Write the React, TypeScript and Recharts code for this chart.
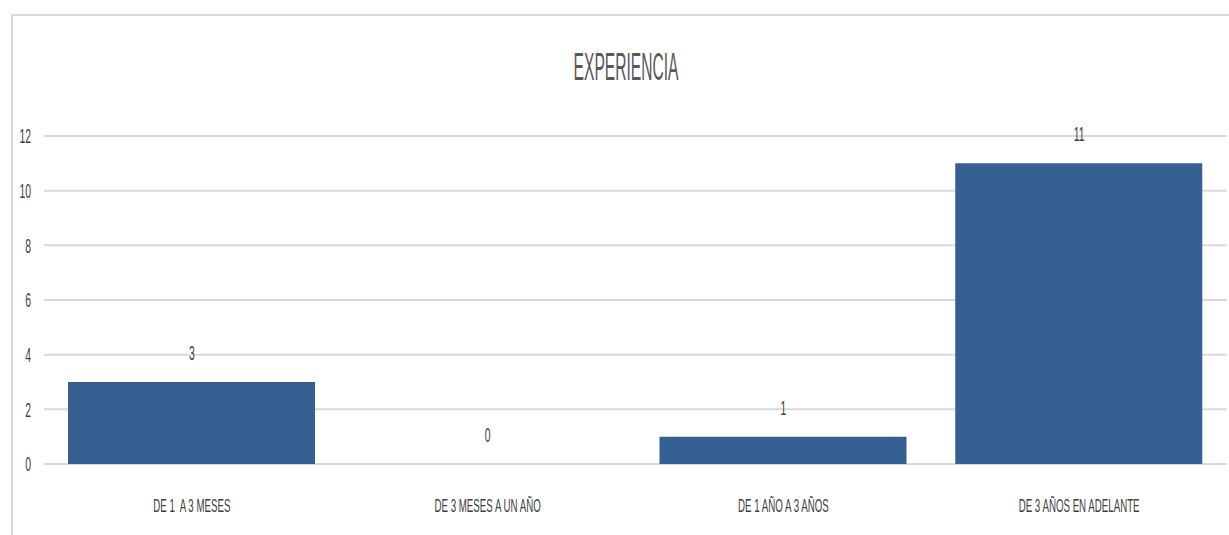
import React from "react";
import { ComposedChart, Bar, Line, XAxis, YAxis, CartesianGrid, LabelList } from "recharts";

const categories = ["DE 1  A 3 MESES", "DE 3 MESES A UN AÑO", "DE 1 AÑO A 3 AÑOS", "DE 3 AÑOS EN ADELANTE"];
const values = [3, 0, 1, 11];
const yTicks = [0, 2, 4, 6, 8, 10, 12];
const title = "EXPERIENCIA";

const data = categories.map((c, i) => ({ name: c, value: values[i] }));

const FONT = "'Liberation Sans', Arial, sans-serif";
const TEXT = "#404040";

const XTick = (props: any) => {
  const { x, y, payload } = props;
  return (
    <g transform={`translate(${x},${y})`}>
      <text transform="scale(0.54,1)" textAnchor="middle" dy="0.71em" fill={TEXT} fontSize={18} fontFamily={FONT} style={{ whiteSpace: "pre" }}>
        {payload.value}
      </text>
    </g>
  );
};

const YTick = (props: any) => {
  const { x, y, payload } = props;
  return (
    <g transform={`translate(${x},${y})`}>
      <text transform="scale(0.52,1)" textAnchor="end" dy="0.36em" fill={TEXT} fontSize={20} fontFamily={FONT}>
        {payload.value}
      </text>
    </g>
  );
};

const ValueLabel = (props: any) => {
  const { x, y, value } = props;
  return (
    <g transform={`translate(${x},${y - 22})`}>
      <text transform="scale(0.52,1)" textAnchor="middle" fill={TEXT} fontSize={20} fontFamily={FONT}>
        {value}
      </text>
    </g>
  );
};

export default function App() {
  return (
    <div style={{ position: "absolute", left: 0, top: 0, width: 1229, height: 535, background: "#fff" }}>
      <div
        style={{
          position: "absolute",
          left: 11,
          top: 14,
          width: 1218,
          height: 521,
          borderTop: "2px solid #d9d9d9",
          borderLeft: "2px solid #d9d9d9",
          boxSizing: "border-box",
        }}
      />
      <svg width={1229} height={100} style={{ position: "absolute", left: 0, top: 0 }}>
        <g transform="translate(626,80)">
          <text transform="scale(0.4,1)" textAnchor="middle" fill="#595959" fontSize={39} fontFamily={FONT}>
            {title}
          </text>
        </g>
      </svg>
      <div style={{ position: "absolute", left: 0, top: 0 }}>
        <ComposedChart
          width={1229}
          height={535}
          data={data}
          margin={{ top: 136, right: 2, bottom: 21, left: 0 }}
        >
          <CartesianGrid vertical={false} stroke="#d9d9d9" strokeWidth={2} />
          <YAxis
            domain={[0, 12]}
            ticks={yTicks}
            width={44}
            axisLine={false}
            tickLine={false}
            tickMargin={7}
            tick={<YTick />}
          />
          <XAxis
            dataKey="name"
            height={50}
            axisLine={false}
            tickLine={false}
            tickMargin={29}
            interval={0}
            tick={<XTick />}
          />
          <Bar dataKey="value" fill="#365f91" barSize={247} isAnimationActive={false} />
          <Line
            dataKey="value"
            stroke="none"
            dot={false}
            activeDot={false}
            legendType="none"
            isAnimationActive={false}
          >
            <LabelList dataKey="value" content={<ValueLabel />} />
          </Line>
        </ComposedChart>
      </div>
    </div>
  );
}
